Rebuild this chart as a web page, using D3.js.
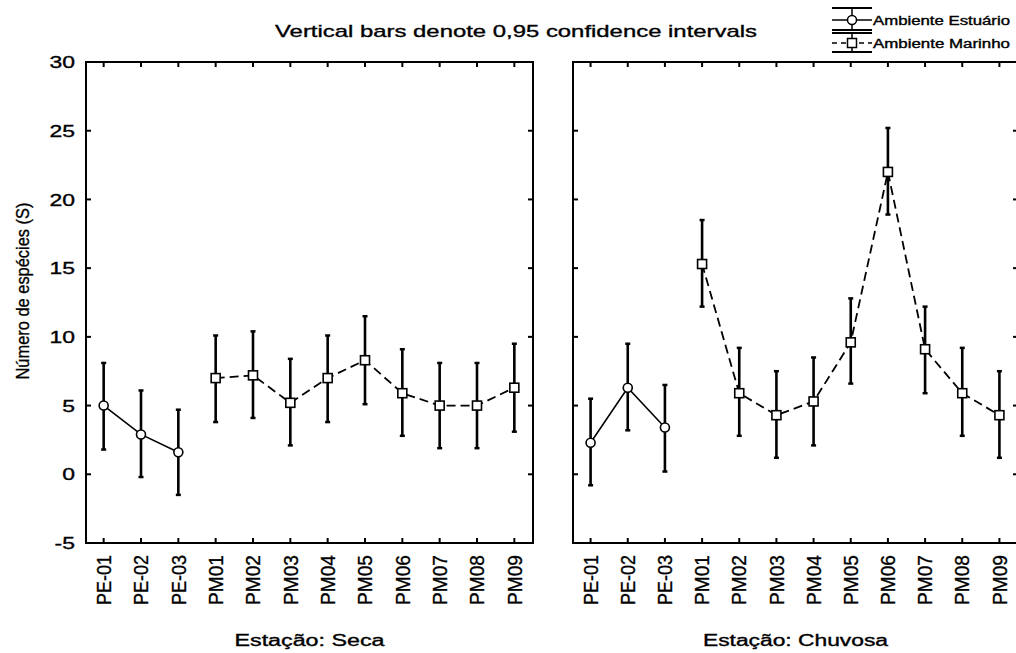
<!DOCTYPE html>
<html lang="pt">
<head>
<meta charset="utf-8">
<script src="https://d3js.org/d3.v7.min.js"></script>
<style>
  body { margin: 0; background: #fff; }
  text { font-family: Arial, "Liberation Sans", sans-serif; fill: #000; stroke: #000; stroke-width: 0.35px; }
</style>
</head>
<body>
<script>
// categorias (estações de coleta)
var categories = ["PE-01","PE-02","PE-03","PM01","PM02","PM03","PM04","PM05","PM06","PM07","PM08","PM09"];
var estCats = ["PE-01","PE-02","PE-03"];
var marCats = ["PM01","PM02","PM03","PM04","PM05","PM06","PM07","PM08","PM09"];
var yTicks = [-5, 0, 5, 10, 15, 20, 25, 30];

// Estação seca
var secaEstMean = [5.0, 2.9, 1.6];
var secaEstLow  = [1.8, -0.2, -1.5];
var secaEstHigh = [8.1, 6.1, 4.7];
var secaMarMean = [7.0, 7.2, 5.2, 7.0, 8.3, 5.9, 5.0, 5.0, 6.3];
var secaMarLow  = [3.8, 4.1, 2.1, 3.8, 5.1, 2.8, 1.9, 1.9, 3.1];
var secaMarHigh = [10.1, 10.4, 8.4, 10.1, 11.5, 9.1, 8.1, 8.1, 9.5];

// Estação chuvosa
var chuvEstMean = [2.3, 6.3, 3.4];
var chuvEstLow  = [-0.8, 3.2, 0.2];
var chuvEstHigh = [5.5, 9.5, 6.5];
var chuvMarMean = [15.3, 5.9, 4.3, 5.3, 9.6, 22.0, 9.1, 5.9, 4.3];
var chuvMarLow  = [12.2, 2.8, 1.2, 2.1, 6.6, 18.9, 5.9, 2.8, 1.2];
var chuvMarHigh = [18.5, 9.2, 7.5, 8.5, 12.8, 25.2, 12.2, 9.2, 7.5];

var W = 1016, H = 653;
var plotTop = 62, plotBottom = 543;

var svg = d3.select("body").append("svg")
    .attr("width", W)
    .attr("height", H);

var y = d3.scaleLinear().domain([-5, 30]).range([plotBottom, plotTop]);

function rows(cats, mean, low, high) {
    return cats.map(function(c, i) {
        return {cat: c, mean: mean[i], low: low[i], high: high[i]};
    });
}

function panel(x0, x1, est, mar, title, titleLen, showY) {
    var x = d3.scalePoint().domain(categories).range([x0 - 1, x1]).padding(0.5);
    var g = svg.append("g");

    /* moldura */
    g.append("rect")
        .attr("x", x0).attr("y", plotTop)
        .attr("width", x1 - x0).attr("height", plotBottom - plotTop)
        .attr("fill", "none").attr("stroke", "#000").attr("stroke-width", 2);

    /* ticks x (dentro, em cima e em baixo) */
    categories.forEach(function(c) {
        g.append("line").attr("x1", x(c)).attr("x2", x(c))
            .attr("y1", plotTop).attr("y2", plotTop + 5)
            .attr("stroke", "#000").attr("stroke-width", 2);
        g.append("line").attr("x1", x(c)).attr("x2", x(c))
            .attr("y1", plotBottom).attr("y2", plotBottom - 5)
            .attr("stroke", "#000").attr("stroke-width", 2);
    });

    /* ticks y */
    yTicks.forEach(function(t) {
        g.append("line").attr("x1", x0).attr("x2", x0 + 5)
            .attr("y1", y(t)).attr("y2", y(t))
            .attr("stroke", "#000").attr("stroke-width", 2);
        g.append("line").attr("x1", x1).attr("x2", x1 - 5)
            .attr("y1", y(t)).attr("y2", y(t))
            .attr("stroke", "#000").attr("stroke-width", 2);
    });

    if (showY) {
        g.selectAll(".ylab")
            .data(yTicks)
            .enter()
            .append("text")
            .attr("transform", function(d){ return "translate(" + (x0 - 11) + "," + y(d) + ") scale(1.35,1)"; })
            .attr("dy", "0.36em")
            .attr("text-anchor", "end")
            .style("font-size", "17px")
            .text(function(d){ return d; });
    }

    /* rótulos x */
    g.selectAll(".xlab")
        .data(categories)
        .enter()
        .append("text")
        .attr("transform", function(d){ return "translate(" + x(d) + "," + (plotBottom + 12) + ") rotate(-90)"; })
        .attr("dy", "0.36em")
        .attr("text-anchor", "end")
        .attr("textLength", 50)
        .attr("lengthAdjust", "spacingAndGlyphs")
        .style("font-size", "20px")
        .text(function(d){ return d; });

    g.append("text")
        .attr("x", (x0 + x1) / 2)
        .attr("y", 646)
        .attr("text-anchor", "middle")
        .attr("textLength", titleLen)
        .attr("lengthAdjust", "spacingAndGlyphs")
        .style("font-size", "16px")
        .text(title);

    /* linhas */
    var line = d3.line()
        .x(function(d){ return x(d.cat); })
        .y(function(d){ return y(d.mean); });

    g.append("path").datum(est)
        .attr("d", line)
        .attr("fill", "none").attr("stroke", "#000").attr("stroke-width", 1.6);

    g.append("path").datum(mar)
        .attr("d", line)
        .attr("fill", "none").attr("stroke", "#000").attr("stroke-width", 1.8)
        .attr("stroke-dasharray", "9,5");

    /* barras de erro */
    var all = est.concat(mar);
    g.selectAll(".err")
        .data(all)
        .enter()
        .append("line")
        .attr("x1", function(d){ return x(d.cat); })
        .attr("x2", function(d){ return x(d.cat); })
        .attr("y1", function(d){ return y(d.low); })
        .attr("y2", function(d){ return y(d.high); })
        .attr("stroke", "#000").attr("stroke-width", 2.6);

    ["low", "high"].forEach(function(k) {
        g.selectAll(".cap-" + k)
            .data(all)
            .enter()
            .append("line")
            .attr("x1", function(d){ return x(d.cat) - 2.5; })
            .attr("x2", function(d){ return x(d.cat) + 2.5; })
            .attr("y1", function(d){ return y(d[k]); })
            .attr("y2", function(d){ return y(d[k]); })
            .attr("stroke", "#000").attr("stroke-width", 2.5);
    });

    /* marcadores */
    g.selectAll(".circ")
        .data(est)
        .enter()
        .append("circle")
        .attr("cx", function(d){ return x(d.cat); })
        .attr("cy", function(d){ return y(d.mean); })
        .attr("r", 4.5)
        .attr("fill", "#fff").attr("stroke", "#000").attr("stroke-width", 1.6);

    g.selectAll(".sq")
        .data(mar)
        .enter()
        .append("rect")
        .attr("x", function(d){ return x(d.cat) - 4.5; })
        .attr("y", function(d){ return y(d.mean) - 4.5; })
        .attr("width", 9).attr("height", 9)
        .attr("fill", "#fff").attr("stroke", "#000").attr("stroke-width", 1.6);
}

panel(86, 533,
    rows(estCats, secaEstMean, secaEstLow, secaEstHigh),
    rows(marCats, secaMarMean, secaMarLow, secaMarHigh),
    "Estação: Seca", 150, true);

panel(573, 1018,
    rows(estCats, chuvEstMean, chuvEstLow, chuvEstHigh),
    rows(marCats, chuvMarMean, chuvMarLow, chuvMarHigh),
    "Estação: Chuvosa", 185, false);

/* título */
svg.append("text")
    .attr("x", 516)
    .attr("y", 37)
    .attr("text-anchor", "middle")
    .attr("textLength", 482)
    .attr("lengthAdjust", "spacingAndGlyphs")
    .style("font-size", "17px")
    .text("Vertical bars denote 0,95 confidence intervals");

/* eixo y */
svg.append("text")
    .attr("transform", "translate(29,291) rotate(-90)")
    .attr("text-anchor", "middle")
    .attr("textLength", 177)
    .attr("lengthAdjust", "spacingAndGlyphs")
    .style("font-size", "19px")
    .text("Número de espécies (S)");

/* legenda */
var lx0 = 832, lx1 = 872, lxm = 852;
var leg = svg.append("g");
[{name: "Ambiente Estuário", capT: 8, mid: 20, capB: 30, dash: null, shape: "circle", ty: 25},
 {name: "Ambiente Marinho", capT: 33, mid: 43, capB: 52, dash: "5,4", shape: "square", ty: 48}
].forEach(function(l) {
    leg.append("line").attr("x1", lx0).attr("x2", lx1).attr("y1", l.capT).attr("y2", l.capT)
        .attr("stroke", "#000").attr("stroke-width", 2.2);
    leg.append("line").attr("x1", lx0).attr("x2", lx1).attr("y1", l.capB).attr("y2", l.capB)
        .attr("stroke", "#000").attr("stroke-width", 2.2);
    leg.append("line").attr("x1", lxm).attr("x2", lxm).attr("y1", l.capT).attr("y2", l.capB)
        .attr("stroke", "#000").attr("stroke-width", 1.5);
    leg.append("line").attr("x1", lx0).attr("x2", lx1).attr("y1", l.mid).attr("y2", l.mid)
        .attr("stroke", "#000").attr("stroke-width", 1.5)
        .attr("stroke-dasharray", l.dash);
    if (l.shape === "circle") {
        leg.append("circle").attr("cx", lxm).attr("cy", l.mid).attr("r", 4.5)
            .attr("fill", "#fff").attr("stroke", "#000").attr("stroke-width", 1.5);
    } else {
        leg.append("rect").attr("x", lxm - 4.5).attr("y", l.mid - 4.5)
            .attr("width", 9).attr("height", 9)
            .attr("fill", "#fff").attr("stroke", "#000").attr("stroke-width", 1.5);
    }
    leg.append("text")
        .attr("x", 873)
        .attr("y", l.ty)
        .attr("textLength", 137)
        .attr("lengthAdjust", "spacingAndGlyphs")
        .style("font-size", "12px")
        .text(l.name);
});
</script>
</body>
</html>
